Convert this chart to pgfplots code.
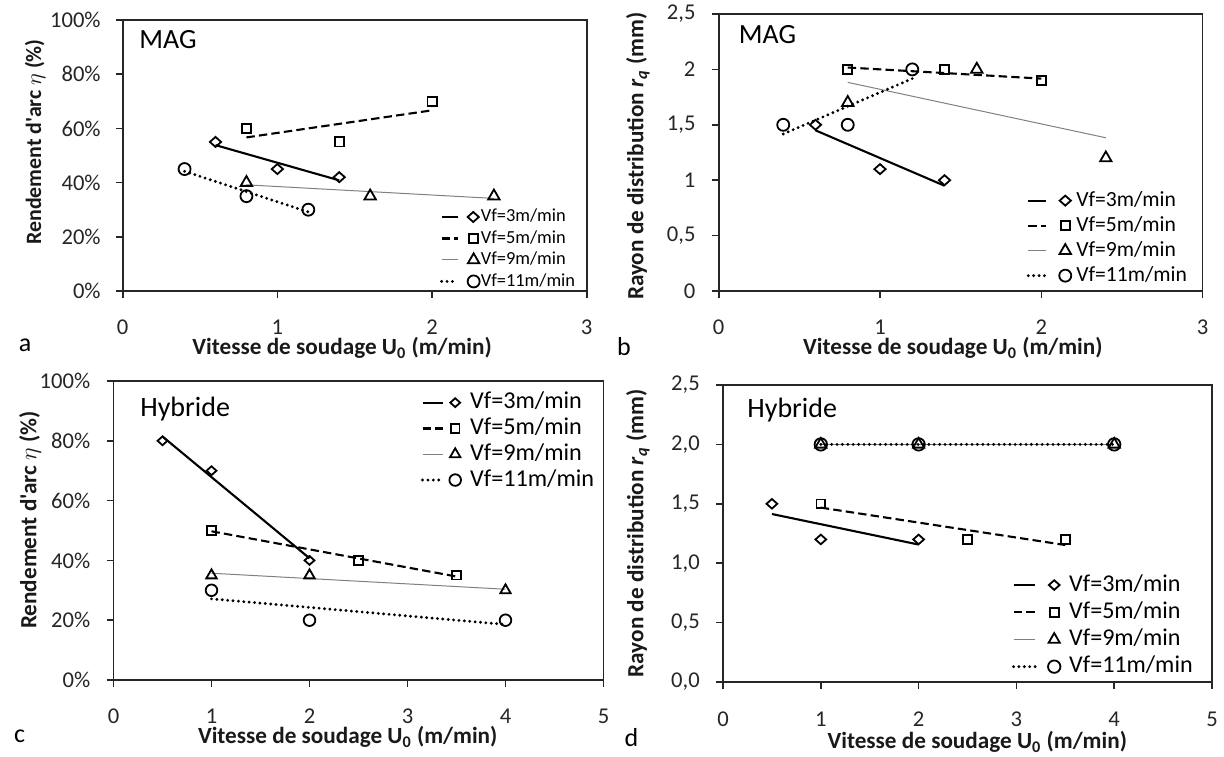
\documentclass[border=0pt]{standalone}
\usepackage{fontspec}
\setmainfont{Carlito}[Ligatures=TeXOff]
\usepackage{pgfplots}
\pgfplotsset{compat=1.18}
\newcommand\fs[1]{\fontsize{#1}{#1}\selectfont}
\tikzset{
 s3/.style={black, line width=1.05pt, solid},
 s5/.style={black, line width=1.05pt, dash pattern=on 4.2pt off 2.1pt},
 s9/.style={black!50, line width=0.5pt, solid},
 s11/.style={black, line width=1.6pt, line cap=round, dash pattern=on 0pt off 2.7pt},
}
\pgfplotsset{
 panel/.style={
   scale only axis, anchor=south west,
   axis line style={line width=0.8pt, black!85},
   tick style={line width=0.8pt, black!85},
   tick align=outside, major tick length=3.5pt, tick pos=left,
   /pgf/number format/assume math mode=true,
   ticklabel style={font=\fs{11.3}, text=black!85},
   label style={font=\bfseries\fs{11.6}, text=black!90},
   xlabel={Vitesse de soudage U\textsubscript{0} (m/min)},
   legend cell align=left, clip=false,
 },
 m3/.style={only marks, mark=diamond, mark size=#1, mark options={solid, draw=black, fill=none, line width=0.9pt, xscale=1.5}},
 m5/.style={only marks, mark=square, mark size=#1, mark options={solid, draw=black, fill=none, line width=0.9pt}},
 m9/.style={only marks, mark=triangle, mark size=#1, mark options={solid, draw=black, fill=none, line width=0.9pt}},
 m11/.style={only marks, mark=o, mark size=#1, mark options={solid, draw=black, fill=none, line width=0.9pt}},
 lg/.style n args={4}{legend image code/.code={\draw[#1] (0pt,0pt) -- (#2,0pt); \draw[##1] plot coordinates {(#3,0pt)}; \path[draw=none,fill=none] (0pt,0pt) -- (#4,0pt);}},
}
\begin{document}
\begin{tikzpicture}
\useasboundingbox (0,0) rectangle (612pt,378pt);
% ---------------- a ----------------
\begin{axis}[panel, at={(61.35pt,232.5pt)}, width=232pt, height=135.5pt,
  xmin=0, xmax=3, ymin=0, ymax=100, xtick={0,1,2,3}, ytick={0,20,...,100},
  yticklabel={\pgfmathprintnumber{\tick}\%}, yticklabel style={xshift=-4pt}, xticklabel style={yshift=-7.2pt},
  ylabel={Rendement d'arc $\eta$ (\%)},
  xlabel style={at={(axis description cs:0.473,0)}, anchor=center, yshift=-28.5pt},
  ylabel style={at={(axis description cs:-0.189,0.55)}, anchor=center, font=\bfseries\fs{10.95}},
  legend style={at={(0.975,0.305)}, anchor=north east, draw=none, fill=none, inner sep=0pt, outer sep=0pt,
    font=\fs{9.2}, row sep=2.1pt, column sep=0pt, nodes={inner sep=0pt, text height=6.62pt, text depth=2.02pt}}]
\addplot[s3, forget plot] coordinates {(0.6,53.83) (1.4,40.83)};
\addplot[s5, forget plot] coordinates {(0.8,56.67) (2.0,66.67)};
\addplot[s9, forget plot] coordinates {(0.8,39.17) (2.4,34.17)};
\addplot[s11, forget plot] coordinates {(0.4,44.17) (1.2,29.17)};
\addplot[m3=2.5pt, lg={s3}{8pt}{15.8pt}{19.6pt}] coordinates {(0.6,55) (1.0,45) (1.4,42)};
\addplot[m5=2.3pt, lg={s5}{8pt}{16pt}{19.6pt}] coordinates {(0.8,60) (1.4,55) (2.0,70)};
\addplot[m9=3.3pt, lg={s9}{8pt}{16pt}{19.6pt}] coordinates {(0.8,40) (1.6,35) (2.4,35)};
\addplot[m11=3pt, lg={s11}{8pt}{16pt}{19.6pt}] coordinates {(0.4,45) (0.8,35) (1.2,30)};
\legend{Vf=3m/min, Vf=5m/min, Vf=9m/min, Vf=11m/min}
\node[anchor=base west, inner sep=0pt, font=\fs{13.9}] at (rel axis cs:0.035,0.896) {MAG};
\end{axis}
% ---------------- b ----------------
\begin{axis}[panel, at={(359.35pt,232.5pt)}, width=241.95pt, height=138.5pt,
  xmin=0, xmax=3, ymin=0, ymax=2.5, xtick={0,1,2,3}, ytick={0,0.5,...,2.5},
  yticklabel style={xshift=-4.6pt, /pgf/number format/use comma}, xticklabel style={yshift=-7.2pt},
  ylabel={Rayon de distribution \textit{r}\textsubscript{\textit{q}} (mm)},
  xlabel style={at={(axis description cs:0.484,0)}, anchor=center, yshift=-28.5pt},
  ylabel style={at={(axis description cs:-0.167,0.487)}, anchor=center},
  legend style={at={(0.9676,0.363)}, anchor=north east, draw=none, fill=none, inner sep=0pt, outer sep=0pt,
    font=\fs{10.8}, row sep=2.35pt, column sep=0pt, nodes={inner sep=0pt, text height=7.78pt, text depth=2.38pt}}]
\addplot[s3, forget plot] coordinates {(0.6,1.45) (1.4,0.95)};
\addplot[s5, forget plot] coordinates {(0.8,2.017) (2.0,1.917)};
\addplot[s9, forget plot] coordinates {(0.8,1.883) (2.4,1.383)};
\addplot[s11, forget plot] coordinates {(0.4,1.417) (1.2,1.917)};
\addplot[m3=2.5pt, lg={s3}{9pt}{18.5pt}{24pt}] coordinates {(0.6,1.5) (1.0,1.1) (1.4,1.0)};
\addplot[m5=2.3pt, lg={s5}{9pt}{18.5pt}{24pt}] coordinates {(0.8,2.0) (1.4,2.0) (2.0,1.9)};
\addplot[m9=3.3pt, lg={s9}{9pt}{18.5pt}{24pt}] coordinates {(0.8,1.7) (1.6,2.0) (2.4,1.2)};
\addplot[m11=3pt, lg={s11}{9pt}{18.5pt}{24pt}] coordinates {(0.4,1.5) (0.8,1.5) (1.2,2.0)};
\legend{Vf=3m/min, Vf=5m/min, Vf=9m/min, Vf=11m/min}
\node[anchor=base west, inner sep=0pt, font=\fs{13.9}] at (rel axis cs:0.041,0.894) {MAG};
\end{axis}
% ---------------- c ----------------
\begin{axis}[panel, at={(56.75pt,38pt)}, width=245pt, height=149.5pt,
  xmin=0, xmax=5, ymin=0, ymax=100, xtick={0,...,5}, ytick={0,20,...,100},
  yticklabel={\pgfmathprintnumber{\tick}\%}, yticklabel style={xshift=-4.6pt}, xticklabel style={yshift=-7.5pt},
  ylabel={Rendement d'arc $\eta$ (\%)},
  xlabel style={at={(axis description cs:0.478,0)}, anchor=center, yshift=-28.6pt},
  ylabel style={at={(axis description cs:-0.170,0.535)}, anchor=center},
  legend style={at={(0.981,0.9656)}, anchor=north east, draw=none, fill=none, inner sep=0pt, outer sep=0pt,
    font=\fs{12.1}, row sep=1.53pt, column sep=0pt, nodes={inner sep=0pt, text height=8.71pt, text depth=2.66pt}}]
\addplot[s3, forget plot] coordinates {(0.5,81.43) (2,40.71)};
\addplot[s5, forget plot] coordinates {(1,49.74) (3.5,34.61)};
\addplot[s9, forget plot] coordinates {(1,35.71) (4,30.36)};
\addplot[s11, forget plot] coordinates {(1,27.14) (4,18.57)};
\addplot[m3=2.2pt, lg={s3}{10pt}{16.35pt}{23.85pt}] coordinates {(0.5,80) (1,70) (2,40)};
\addplot[m5=2.1pt, lg={s5}{10pt}{16.35pt}{23.85pt}] coordinates {(1,50) (2.5,40) (3.5,35)};
\addplot[m9=3pt, lg={s9}{10pt}{16.35pt}{23.85pt}] coordinates {(1,35) (2,35) (4,30)};
\addplot[m11=2.9pt, lg={s11}{10pt}{16.35pt}{23.85pt}] coordinates {(1,30) (2,20) (4,20)};
\legend{Vf=3m/min, Vf=5m/min, Vf=9m/min, Vf=11m/min}
\node[anchor=base west, inner sep=0pt, font=\fs{14}] at (rel axis cs:0.054,0.881) {Hybride};
\end{axis}
% ---------------- d ----------------
\begin{axis}[panel, at={(361.5pt,37pt)}, width=244.5pt, height=148.5pt,
  xmin=0, xmax=5, ymin=0, ymax=2.5, xtick={0,...,5}, ytick={0,0.5,...,2.5},
  yticklabel style={xshift=-4.6pt, /pgf/number format/.cd, fixed, fixed zerofill, precision=1, use comma},
  xticklabel style={yshift=-8pt},
  ylabel={Rayon de distribution \textit{r}\textsubscript{\textit{q}} (mm)},
  xlabel style={at={(axis description cs:0.52,0)}, anchor=center, yshift=-30pt},
  ylabel style={at={(axis description cs:-0.174,0.5)}, anchor=center},
  legend style={at={(0.9605,0.3646)}, anchor=north east, draw=none, fill=none, inner sep=0pt, outer sep=0pt,
    font=\fs{12.05}, row sep=2.27pt, column sep=0pt, nodes={inner sep=0pt, text height=8.68pt, text depth=2.65pt}}]
\addplot[s3, forget plot] coordinates {(0.5,1.414) (2,1.157)};
\addplot[s5, forget plot] coordinates {(1,1.468) (3.5,1.153)};
\addplot[s9, forget plot] coordinates {(1,2) (4,2)};
\addplot[s11, forget plot] coordinates {(1,2) (4,2)};
\addplot[m3=2.4pt, lg={s3}{10.9pt}{20.35pt}{27.85pt}] coordinates {(0.5,1.5) (1,1.2) (2,1.2)};
\addplot[m5=2.2pt, lg={s5}{10.9pt}{20.35pt}{27.85pt}] coordinates {(1,1.5) (2.5,1.2) (3.5,1.2)};
\addplot[m9=3.2pt, lg={s9}{10.9pt}{20.35pt}{27.85pt}] coordinates {(1,2) (2,2) (4,2)};
\addplot[m11=3.1pt, lg={s11}{10.9pt}{20.35pt}{27.85pt}] coordinates {(1,2) (2,2) (4,2)};
\legend{Vf=3m/min, Vf=5m/min, Vf=9m/min, Vf=11m/min}
\node[anchor=base west, inner sep=0pt, font=\fs{14}] at (rel axis cs:0.049,0.891) {Hybride};
\end{axis}
% panel letters
\node[font=\fs{13}] at (12.5pt,205.5pt) {a};
\node[font=\fs{13}] at (312pt,204.5pt) {b};
\node[font=\fs{13}] at (9.75pt,10pt) {c};
\node[font=\fs{13}] at (315.75pt,9pt) {d};
\end{tikzpicture}
\end{document}
